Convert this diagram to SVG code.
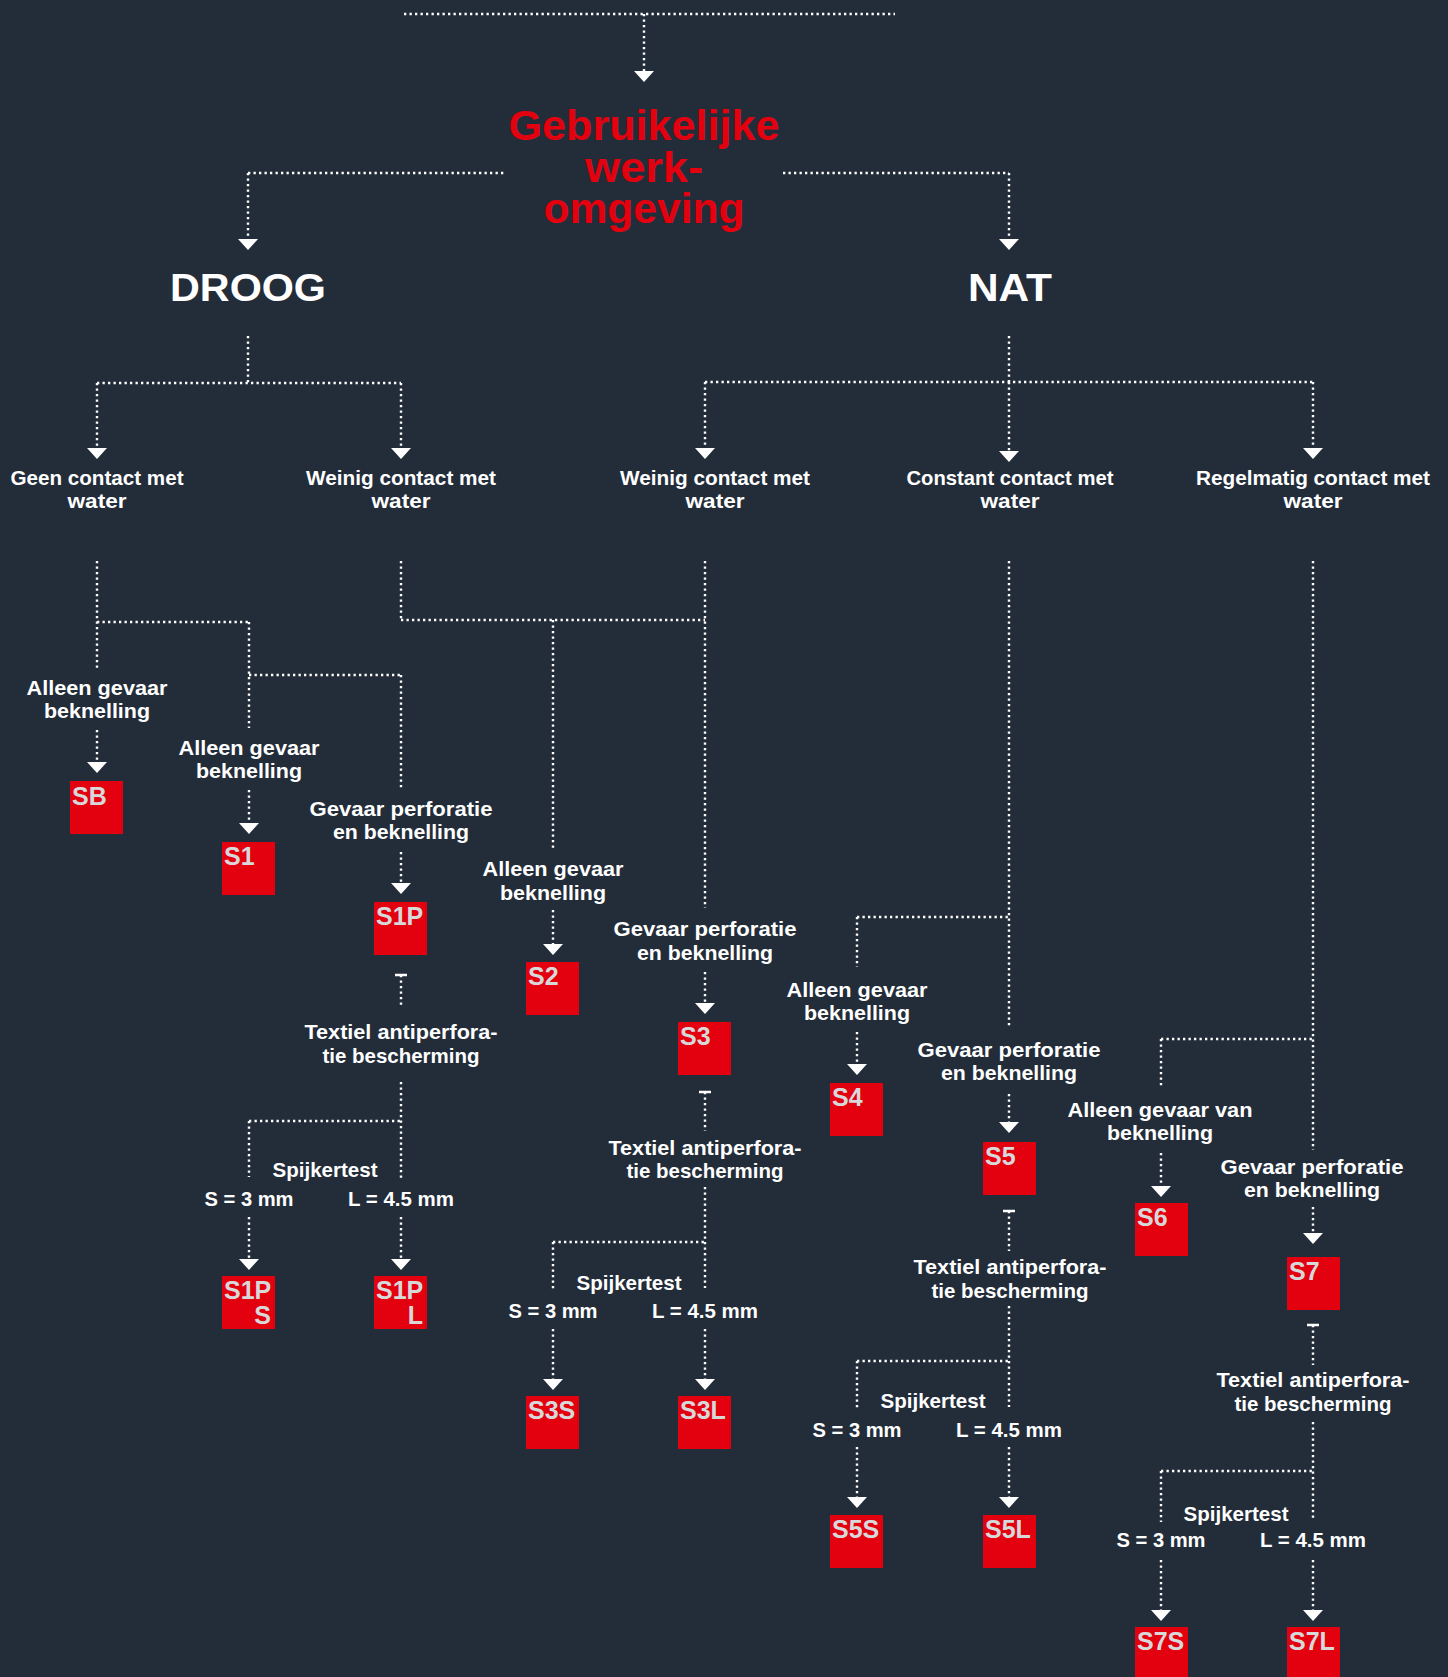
<svg xmlns="http://www.w3.org/2000/svg" xmlns:xlink="http://www.w3.org/1999/xlink" width="1448" height="1677" viewBox="0 0 1448 1677">
<style>
.c{fill:none;stroke:#ffffff;stroke-width:2.4;stroke-dasharray:2.3 3.2}
.t{font-family:"Liberation Sans",Arial,sans-serif;font-weight:bold;font-size:21px;fill:#ffffff;text-anchor:middle}
.h{font-family:"Liberation Sans",Arial,sans-serif;font-weight:bold;font-size:39px;fill:#ffffff;text-anchor:middle}
.ti{font-family:"Liberation Sans",Arial,sans-serif;font-weight:bold;font-size:42px;fill:#e3000f;text-anchor:middle}
.box{fill:#e3000f}
.bt{font-family:"Liberation Sans",Arial,sans-serif;font-weight:bold;font-size:25px;fill:#d7d8da}
.be{text-anchor:end}
</style>
<defs>
<polygon id="ah" points="-10,0 10,0 0,11" fill="#ffffff"/>
<rect id="tk" x="-6" y="-1.25" width="12" height="2.5" fill="#ffffff"/>
</defs>
<rect x="0" y="0" width="1448" height="1677" fill="#232d3a"/>

<g id="connectors">
<path class="c" d="M404 14H895M644 14V71M248 173H506M783 173H1009M248 173V239M1009 173V239"/>
<path class="c" d="M248 336V383M97 383H401M97 383V448M401 383V448"/>
<path class="c" d="M1009 336V382M705 382H1313M705 382V448M1009 382V451M1313 382V448"/>
<path class="c" d="M97 561V668M97 622H249M249 622V728M249 675H401M401 675V788"/>
<path class="c" d="M401 561V620M401 620H705M553 620V848M705 561V908"/>
<path class="c" d="M1009 561V1028M857 917H1009M857 917V967"/>
<path class="c" d="M1313 561V1150M1161 1039H1313M1161 1039V1088"/>
<path class="c" d="M97 730V762M249 790V823M401 852V883M553 910V944M705 972V1003M857 1032V1064M1009 1094V1122M1161 1153V1186M1313 1207V1233"/>
<path class="c" d="M401 975V1005M401 1082V1179M249 1121H401M249 1121V1177M249 1217V1259M401 1217V1259"/>
<path class="c" d="M705 1092V1131M705 1187V1288M553 1242H705M553 1242V1291M553 1329V1379M705 1329V1379"/>
<path class="c" d="M1009 1211V1251M1009 1306V1407M857 1361H1009M857 1361V1409M857 1447V1497M1009 1447V1497"/>
<path class="c" d="M1313 1325V1365M1313 1422V1518M1161 1471H1313M1161 1471V1522M1161 1560V1610M1313 1560V1610"/>
<use xlink:href="#ah" x="644" y="71"/>
<use xlink:href="#ah" x="248" y="239"/>
<use xlink:href="#ah" x="1009" y="239"/>
<use xlink:href="#ah" x="97" y="448"/>
<use xlink:href="#ah" x="401" y="448"/>
<use xlink:href="#ah" x="705" y="448"/>
<use xlink:href="#ah" x="1009" y="451"/>
<use xlink:href="#ah" x="1313" y="448"/>
<use xlink:href="#ah" x="97" y="762"/>
<use xlink:href="#ah" x="249" y="823"/>
<use xlink:href="#ah" x="401" y="883"/>
<use xlink:href="#ah" x="553" y="944"/>
<use xlink:href="#ah" x="705" y="1003"/>
<use xlink:href="#ah" x="857" y="1064"/>
<use xlink:href="#ah" x="1009" y="1122"/>
<use xlink:href="#ah" x="1161" y="1186"/>
<use xlink:href="#ah" x="1313" y="1233"/>
<use xlink:href="#ah" x="249" y="1259"/>
<use xlink:href="#ah" x="401" y="1259"/>
<use xlink:href="#ah" x="553" y="1379"/>
<use xlink:href="#ah" x="705" y="1379"/>
<use xlink:href="#ah" x="857" y="1497"/>
<use xlink:href="#ah" x="1009" y="1497"/>
<use xlink:href="#ah" x="1161" y="1610"/>
<use xlink:href="#ah" x="1313" y="1610"/>
<use xlink:href="#tk" x="401" y="975"/>
<use xlink:href="#tk" x="705" y="1092"/>
<use xlink:href="#tk" x="1009" y="1211"/>
<use xlink:href="#tk" x="1313" y="1325"/>
</g>

<g id="title">
<text class="ti" x="644" y="140" textLength="271" lengthAdjust="spacingAndGlyphs">Gebruikelijke</text>
<text class="ti" x="644" y="182" textLength="118" lengthAdjust="spacingAndGlyphs">werk-</text>
<text class="ti" x="644" y="223" textLength="201" lengthAdjust="spacingAndGlyphs">omgeving</text>
</g>
<g id="droog"><text class="h" x="248" y="301" textLength="156" lengthAdjust="spacingAndGlyphs">DROOG</text></g>
<g id="nat"><text class="h" x="1010" y="301" textLength="84" lengthAdjust="spacingAndGlyphs">NAT</text></g>

<g id="geen-contact">
<text class="t" x="97" y="485" textLength="173" lengthAdjust="spacingAndGlyphs">Geen contact met</text>
<text class="t" x="97" y="508" textLength="59" lengthAdjust="spacingAndGlyphs">water</text>
</g>
<g id="weinig-contact-droog">
<text class="t" x="401" y="485" textLength="190" lengthAdjust="spacingAndGlyphs">Weinig contact met</text>
<text class="t" x="401" y="508" textLength="59" lengthAdjust="spacingAndGlyphs">water</text>
</g>
<g id="weinig-contact-nat">
<text class="t" x="715" y="485" textLength="190" lengthAdjust="spacingAndGlyphs">Weinig contact met</text>
<text class="t" x="715" y="508" textLength="59" lengthAdjust="spacingAndGlyphs">water</text>
</g>
<g id="constant-contact">
<text class="t" x="1010" y="485" textLength="207" lengthAdjust="spacingAndGlyphs">Constant contact met</text>
<text class="t" x="1010" y="508" textLength="59" lengthAdjust="spacingAndGlyphs">water</text>
</g>
<g id="regelmatig-contact">
<text class="t" x="1313" y="485" textLength="234" lengthAdjust="spacingAndGlyphs">Regelmatig contact met</text>
<text class="t" x="1313" y="508" textLength="59" lengthAdjust="spacingAndGlyphs">water</text>
</g>

<g id="label-sb">
<text class="t" x="97" y="695" textLength="141" lengthAdjust="spacingAndGlyphs">Alleen gevaar</text>
<text class="t" x="97" y="718" textLength="106" lengthAdjust="spacingAndGlyphs">beknelling</text>
</g>
<g id="label-s1">
<text class="t" x="249" y="755" textLength="141" lengthAdjust="spacingAndGlyphs">Alleen gevaar</text>
<text class="t" x="249" y="778" textLength="106" lengthAdjust="spacingAndGlyphs">beknelling</text>
</g>
<g id="label-s1p">
<text class="t" x="401" y="816" textLength="183" lengthAdjust="spacingAndGlyphs">Gevaar perforatie</text>
<text class="t" x="401" y="839" textLength="136" lengthAdjust="spacingAndGlyphs">en beknelling</text>
</g>
<g id="label-s2">
<text class="t" x="553" y="876" textLength="141" lengthAdjust="spacingAndGlyphs">Alleen gevaar</text>
<text class="t" x="553" y="900" textLength="106" lengthAdjust="spacingAndGlyphs">beknelling</text>
</g>
<g id="label-s3">
<text class="t" x="705" y="936" textLength="183" lengthAdjust="spacingAndGlyphs">Gevaar perforatie</text>
<text class="t" x="705" y="960" textLength="136" lengthAdjust="spacingAndGlyphs">en beknelling</text>
</g>
<g id="label-s4">
<text class="t" x="857" y="997" textLength="141" lengthAdjust="spacingAndGlyphs">Alleen gevaar</text>
<text class="t" x="857" y="1020" textLength="106" lengthAdjust="spacingAndGlyphs">beknelling</text>
</g>
<g id="label-s5">
<text class="t" x="1009" y="1057" textLength="183" lengthAdjust="spacingAndGlyphs">Gevaar perforatie</text>
<text class="t" x="1009" y="1080" textLength="136" lengthAdjust="spacingAndGlyphs">en beknelling</text>
</g>
<g id="label-s6">
<text class="t" x="1160" y="1117" textLength="185" lengthAdjust="spacingAndGlyphs">Alleen gevaar van</text>
<text class="t" x="1160" y="1140" textLength="106" lengthAdjust="spacingAndGlyphs">beknelling</text>
</g>
<g id="label-s7">
<text class="t" x="1312" y="1174" textLength="183" lengthAdjust="spacingAndGlyphs">Gevaar perforatie</text>
<text class="t" x="1312" y="1197" textLength="136" lengthAdjust="spacingAndGlyphs">en beknelling</text>
</g>

<g id="textiel-s1p">
<text class="t" x="401" y="1039" textLength="193" lengthAdjust="spacingAndGlyphs">Textiel antiperfora-</text>
<text class="t" x="401" y="1063" textLength="157" lengthAdjust="spacingAndGlyphs">tie bescherming</text>
</g>
<g id="spijker-s1p">
<text class="t" x="325" y="1177" textLength="105" lengthAdjust="spacingAndGlyphs">Spijkertest</text>
<text class="t" x="249" y="1206" textLength="89" lengthAdjust="spacingAndGlyphs">S = 3 mm</text>
<text class="t" x="401" y="1206" textLength="106" lengthAdjust="spacingAndGlyphs">L = 4.5 mm</text>
</g>
<g id="textiel-s3">
<text class="t" x="705" y="1155" textLength="193" lengthAdjust="spacingAndGlyphs">Textiel antiperfora-</text>
<text class="t" x="705" y="1178" textLength="157" lengthAdjust="spacingAndGlyphs">tie bescherming</text>
</g>
<g id="spijker-s3">
<text class="t" x="629" y="1290" textLength="105" lengthAdjust="spacingAndGlyphs">Spijkertest</text>
<text class="t" x="553" y="1318" textLength="89" lengthAdjust="spacingAndGlyphs">S = 3 mm</text>
<text class="t" x="705" y="1318" textLength="106" lengthAdjust="spacingAndGlyphs">L = 4.5 mm</text>
</g>
<g id="textiel-s5">
<text class="t" x="1010" y="1274" textLength="193" lengthAdjust="spacingAndGlyphs">Textiel antiperfora-</text>
<text class="t" x="1010" y="1298" textLength="157" lengthAdjust="spacingAndGlyphs">tie bescherming</text>
</g>
<g id="spijker-s5">
<text class="t" x="933" y="1408" textLength="105" lengthAdjust="spacingAndGlyphs">Spijkertest</text>
<text class="t" x="857" y="1437" textLength="89" lengthAdjust="spacingAndGlyphs">S = 3 mm</text>
<text class="t" x="1009" y="1437" textLength="106" lengthAdjust="spacingAndGlyphs">L = 4.5 mm</text>
</g>
<g id="textiel-s7">
<text class="t" x="1313" y="1387" textLength="193" lengthAdjust="spacingAndGlyphs">Textiel antiperfora-</text>
<text class="t" x="1313" y="1411" textLength="157" lengthAdjust="spacingAndGlyphs">tie bescherming</text>
</g>
<g id="spijker-s7">
<text class="t" x="1236" y="1521" textLength="105" lengthAdjust="spacingAndGlyphs">Spijkertest</text>
<text class="t" x="1161" y="1547" textLength="89" lengthAdjust="spacingAndGlyphs">S = 3 mm</text>
<text class="t" x="1313" y="1547" textLength="106" lengthAdjust="spacingAndGlyphs">L = 4.5 mm</text>
</g>

<g id="SB"><rect class="box" x="70" y="781" width="53" height="53"/><text class="bt" x="72" y="805">SB</text></g>
<g id="S1"><rect class="box" x="222" y="842" width="53" height="53"/><text class="bt" x="224" y="865">S1</text></g>
<g id="S1P"><rect class="box" x="374" y="902" width="53" height="53"/><text class="bt" x="376" y="925">S1P</text></g>
<g id="S2"><rect class="box" x="526" y="962" width="53" height="53"/><text class="bt" x="528" y="985">S2</text></g>
<g id="S3"><rect class="box" x="678" y="1022" width="53" height="53"/><text class="bt" x="680" y="1045">S3</text></g>
<g id="S4"><rect class="box" x="830" y="1083" width="53" height="53"/><text class="bt" x="832" y="1106">S4</text></g>
<g id="S5"><rect class="box" x="983" y="1142" width="53" height="53"/><text class="bt" x="985" y="1165">S5</text></g>
<g id="S6"><rect class="box" x="1135" y="1203" width="53" height="53"/><text class="bt" x="1137" y="1226">S6</text></g>
<g id="S7"><rect class="box" x="1287" y="1257" width="53" height="53"/><text class="bt" x="1289" y="1280">S7</text></g>
<g id="S1PS"><rect class="box" x="222" y="1276" width="53" height="53"/><text class="bt" x="224" y="1299">S1P</text><text class="bt be" x="271" y="1324">S</text></g>
<g id="S1PL"><rect class="box" x="374" y="1276" width="53" height="53"/><text class="bt" x="376" y="1299">S1P</text><text class="bt be" x="423" y="1324">L</text></g>
<g id="S3S"><rect class="box" x="526" y="1396" width="53" height="53"/><text class="bt" x="528" y="1419">S3S</text></g>
<g id="S3L"><rect class="box" x="678" y="1396" width="53" height="53"/><text class="bt" x="680" y="1419">S3L</text></g>
<g id="S5S"><rect class="box" x="830" y="1515" width="53" height="53"/><text class="bt" x="832" y="1538">S5S</text></g>
<g id="S5L"><rect class="box" x="983" y="1515" width="53" height="53"/><text class="bt" x="985" y="1538">S5L</text></g>
<g id="S7S"><rect class="box" x="1135" y="1627" width="53" height="53"/><text class="bt" x="1137" y="1650">S7S</text></g>
<g id="S7L"><rect class="box" x="1287" y="1627" width="53" height="53"/><text class="bt" x="1289" y="1650">S7L</text></g>
</svg>
